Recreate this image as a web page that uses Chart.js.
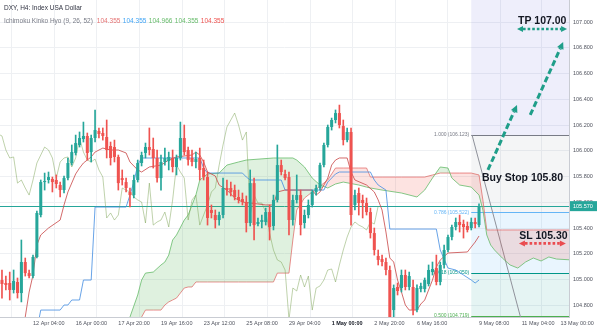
<!DOCTYPE html>
<html><head><meta charset="utf-8">
<script src="https://cdn.jsdelivr.net/npm/chart.js@4.4.1/dist/chart.umd.min.js"></script>
<style>html,body{margin:0;padding:0;background:#fff;overflow:hidden}canvas{display:block}</style>
</head><body>
<canvas id="c" width="597" height="328"></canvas>
<script>
// ---------------- DATA ----------------
const firstBar = -8;           // bar index of the first candle in the arrays
const lagShift = 26;           // lagging span displacement (bars)
const opens = [104.996,104.973,104.973,104.919,104.981,104.895,105.136,105.050,105.027,105.175,
105.501,105.757,105.773,105.781,105.773,105.734,105.695,105.788,105.905,105.983,
106.045,106.091,106.115,105.990,106.099,106.154,106.138,106.107,106.037,106.029,
105.952,105.788,105.757,105.680,105.656,105.773,105.905,105.983,106.029,106.014,
105.944,105.788,105.913,105.920,105.944,105.874,105.944,106.099,106.006,105.944,
105.913,105.944,105.866,105.796,105.540,105.501,105.462,105.501,105.711,105.711,
105.695,105.641,105.625,105.602,105.439,105.749,105.431,105.447,105.447,105.524,
105.416,105.618,105.889,105.820,105.796,105.462,105.618,105.656,105.439,105.501,
105.579,105.680,105.711,105.889,106.045,106.185,106.239,106.293,106.192,106.083,
106.146,105.579,105.672,105.618,105.594,105.524,105.361,105.183,105.159,105.136,
105.074,104.763,104.942,104.934,105.035,104.942,104.942,104.763,104.926,104.926,
104.965,105.058,105.089,104.981,105.113,105.229,105.330,105.408,105.447,105.431,
105.416,105.400,105.447,105.423];
const highs = [105.074,105.027,105.058,105.074,105.012,105.307,105.167,105.074,105.190,105.532,
105.773,105.827,105.835,105.796,105.812,105.757,105.804,105.944,106.045,106.122,
106.146,106.223,106.138,106.122,106.317,106.177,106.177,106.239,106.068,106.083,
105.967,105.851,105.788,105.711,105.812,105.928,105.990,106.060,106.177,106.099,
106.006,105.967,106.021,105.990,106.006,105.967,106.223,106.200,106.029,106.006,
105.990,106.021,105.928,105.835,105.579,105.540,105.524,105.788,105.773,105.757,
105.734,105.695,105.672,105.649,105.851,105.788,105.478,105.501,105.555,105.579,
105.656,106.045,105.928,105.851,105.835,105.656,105.812,105.695,105.540,105.618,
105.695,105.734,105.905,106.060,106.200,106.254,106.317,106.355,106.239,106.177,
106.177,105.695,105.711,105.656,105.633,105.555,105.400,105.229,105.190,105.167,
105.105,104.958,104.973,105.074,105.074,105.058,104.996,104.958,104.973,105.012,
105.113,105.136,105.190,105.136,105.268,105.346,105.423,105.478,105.501,105.462,
105.447,105.478,105.478,105.587];
const lows = [104.856,104.919,104.841,104.895,104.856,104.826,105.027,105.012,105.012,105.167,
105.486,105.695,105.749,105.680,105.711,105.641,105.672,105.773,105.889,105.967,
106.029,106.068,105.928,105.913,106.068,106.099,106.083,105.944,105.889,105.913,
105.695,105.734,105.680,105.563,105.633,105.757,105.882,105.944,105.967,105.866,
105.757,105.695,105.889,105.851,105.835,105.812,105.928,105.967,105.889,105.882,
105.866,105.773,105.773,105.423,105.478,105.400,105.423,105.478,105.656,105.649,
105.618,105.594,105.579,105.369,105.416,105.307,105.416,105.400,105.423,105.307,
105.385,105.602,105.812,105.773,105.346,105.423,105.594,105.346,105.400,105.478,
105.563,105.656,105.695,105.874,106.029,106.161,106.216,106.177,106.045,106.068,
105.423,105.540,105.501,105.478,105.501,105.322,105.190,105.113,105.105,105.035,
104.530,104.608,104.880,104.903,104.919,104.919,104.725,104.748,104.903,104.903,
104.950,105.035,104.958,104.958,105.089,105.214,105.307,105.385,105.369,105.322,
105.369,105.385,105.400,105.408];
const closes = [104.965,104.958,104.919,104.989,104.895,105.136,105.050,105.027,105.175,105.517,
105.757,105.765,105.796,105.757,105.742,105.695,105.788,105.905,105.990,106.060,
106.099,106.115,105.983,106.099,106.161,106.130,106.115,106.006,105.944,105.952,
105.749,105.773,105.711,105.656,105.773,105.905,105.967,106.029,106.006,105.944,
105.788,105.913,105.944,105.952,105.874,105.944,106.099,105.990,105.928,105.913,
105.936,105.851,105.796,105.478,105.517,105.462,105.501,105.711,105.695,105.680,
105.641,105.618,105.602,105.439,105.749,105.423,105.447,105.462,105.524,105.408,
105.618,105.889,105.835,105.788,105.462,105.618,105.656,105.423,105.501,105.579,
105.680,105.711,105.889,106.045,106.185,106.239,106.293,106.200,106.083,106.146,
105.501,105.656,105.594,105.594,105.524,105.361,105.229,105.152,105.136,105.074,
104.690,104.934,104.911,105.035,104.942,105.027,104.763,104.934,104.950,104.996,
105.074,105.082,104.981,105.113,105.229,105.330,105.408,105.447,105.423,105.408,
105.385,105.447,105.431,105.570];
const lastPrice = 105.570;

// Ichimoku lines (bar index, price)
const tenkanBars = [-3,-2,-1,0,1,2,4,7,8,9,11,12,13,15,16,18,20,22,24,25,27,28,30,33,35,37,41,42,43,44,45,47,48,50,52,54,60,62,63,65,72,73,74,75,76,77,78,79,81,82,83,86,88,89,90,91,92,93,94,95,96,97,99,100,101,102,103,104,105,107,112,113,114,115];
const tenkanVals = [104.569,104.709,104.903,105.035,105.268,105.346,105.400,105.462,105.579,105.680,105.820,105.866,105.905,105.952,105.990,106.021,106.006,106.006,105.983,105.913,105.851,105.835,105.874,105.889,105.928,105.952,105.967,105.990,105.967,105.913,105.835,105.804,105.734,105.695,105.633,105.602,105.579,105.579,105.680,105.695,105.695,105.656,105.680,105.734,105.788,105.889,105.928,105.944,105.944,105.835,105.773,105.734,105.680,105.618,105.540,105.369,105.167,105.136,104.996,104.903,104.802,104.763,104.763,104.810,104.841,104.919,104.996,105.097,105.152,105.206,105.214,105.253,105.291,105.338];
const kijunBars = [1,2,7,8,9,10,12,13,15,16,24,25,26,27,28,43,44,45,54,55,56,64,65,75,76,77,78,79,87,88,89,91,92,104,105,107,109,111,113,114,115];
const kijunVals = [104.608,104.763,104.763,104.802,104.802,104.841,104.841,104.996,104.996,105.563,105.563,105.656,105.757,105.889,105.944,105.944,105.866,105.827,105.827,105.796,105.773,105.773,105.695,105.695,105.757,105.788,105.820,105.835,105.835,105.773,105.734,105.695,105.392,105.392,105.229,105.089,105.074,105.035,104.996,104.973,104.996];
const cloudBars = [20,25,27,28,29,31,33,34,35,36,37,39,40,41,42,43,45,48,50,53,55,62,63,66,67,68,70,72,74,76,78,80,84,86,87,90,95,99,101,103,105,107,108,110,113,115,116,117,118,119,121,123,125,127,129,131,133,135,139];
const spanA = [104.491,104.709,104.880,104.996,105.050,105.058,105.113,105.136,105.190,105.307,105.346,105.462,105.501,105.579,105.656,105.773,105.820,105.827,105.889,105.913,105.928,105.944,105.944,105.944,105.944,105.928,105.874,105.788,105.734,105.711,105.742,105.757,105.734,105.718,105.711,105.695,105.672,105.641,105.695,105.788,105.874,105.866,105.788,105.734,105.718,105.656,105.540,105.346,105.268,105.229,105.167,105.113,105.089,105.136,105.167,105.144,105.175,105.159,105.152];
const spanB = [103.909,104.064,104.530,104.709,104.763,104.763,104.763,104.802,104.826,104.841,104.856,104.934,104.942,104.942,104.981,104.981,104.981,104.981,104.981,104.981,104.981,104.981,105.050,105.050,105.307,105.540,105.633,105.680,105.726,105.773,105.866,105.866,105.866,105.866,105.796,105.796,105.796,105.796,105.796,105.812,105.827,105.827,105.827,105.827,105.827,105.812,105.618,105.385,105.385,105.385,105.385,105.385,105.385,105.385,105.385,105.385,105.385,105.385,105.385];
const legendValues = [104.355, 104.355, 104.966, 104.355, 104.355];

// Axis ticks
const timeTickBars = [0,11,22,33,44,55,66,77,88,99,115,126,136];
const timeTickLabels = ['12 Apr 04:00','16 Apr 00:00','17 Apr 20:00','19 Apr 16:00','23 Apr 12:00','25 Apr 08:00','29 Apr 04:00','1 May 00:00','2 May 20:00','6 May 16:00','9 May 08:00','11 May 04:00','13 May 00:00'];
const boldTimeLabel = '1 May 00:00';
const priceTicks = [104.8,105.0,105.2,105.4,105.6,105.8,106.0,106.2,106.4,106.6,106.8,107.0];

// Fibonacci retracement & trade plan
const fibRatios = [1, 0.786, 0.618, 0.5];
const fibPrices = [106.123, 105.522, 105.050, 104.719];
const fibStartBar = 113;
const fibTrend = [[113.2, 106.123], [138, 103.315]];
const takeProfit = 107.00, buyStop = 105.80, stopLoss = 105.30;

// ---------------- CHART ----------------
const FONT = '"Liberation Sans", Arial, sans-serif';
const UP = '#26a69a', DOWN = '#ef5350';
const bars = opens.map((_, k) => firstBar + k);
const isUp = k => closes[k] >= opens[k];
const pts = (xs, ys) => xs.map((x, k) => ({x, y: ys[k]}));
const boldIdx = timeTickLabels.indexOf(boldTimeLabel);

function head(ctx, x1, y1, x2, y2, len, w) {
  const a = Math.atan2(y2 - y1, x2 - x1), c = Math.cos(a), s = Math.sin(a);
  ctx.beginPath();
  ctx.moveTo(x2, y2);
  ctx.lineTo(x2 - len * c + w / 2 * s, y2 - len * s - w / 2 * c);
  ctx.lineTo(x2 - len * c - w / 2 * s, y2 - len * s + w / 2 * c);
  ctx.closePath(); ctx.fill();
}
function dashedArrow(ctx, x1, y1, x2, y2, color) {
  const a = Math.atan2(y2 - y1, x2 - x1), len = 7;
  ctx.save();
  ctx.strokeStyle = color; ctx.fillStyle = color; ctx.lineWidth = 3;
  ctx.setLineDash([6, 3]);
  ctx.beginPath(); ctx.moveTo(x1, y1); ctx.lineTo(x2 - len * Math.cos(a), y2 - len * Math.sin(a)); ctx.stroke();
  ctx.setLineDash([]);
  head(ctx, x1, y1, x2, y2, len, 7);
  ctx.restore();
}
function dottedDouble(ctx, x1, x2, yy, color) {
  const len = 6;
  ctx.save();
  ctx.strokeStyle = color; ctx.fillStyle = color; ctx.lineWidth = 2.6;
  ctx.setLineDash([2.6, 2]);
  ctx.beginPath(); ctx.moveTo(x1 + len, yy); ctx.lineTo(x2 - len, yy); ctx.stroke();
  ctx.setLineDash([]);
  head(ctx, x2, yy, x1, yy, len, 6);
  head(ctx, x1, yy, x2, yy, len, 6);
  ctx.restore();
}

const overlay = {
  id: 'overlay',
  beforeDatasetsDraw(chart) {
    const {ctx, chartArea: a, scales: {x, y}} = chart;
    ctx.save();
    ctx.beginPath(); ctx.rect(a.left, a.top, a.right - a.left, a.bottom - a.top); ctx.clip();
    const x0 = x.getPixelForValue(fibStartBar);
    const edges = [a.top, ...fibPrices.map(p => y.getPixelForValue(p)), a.bottom];
    const bandColors = ['rgba(90,90,215,0.1)', 'rgba(120,123,134,0.08)', 'rgba(100,181,246,0.14)', 'rgba(0,150,136,0.1)', 'rgba(76,175,80,0.12)'];
    for (let k = 0; k < edges.length - 1; k++) {
      ctx.fillStyle = bandColors[k];
      ctx.fillRect(x0, edges[k], a.right - x0, edges[k + 1] - edges[k]);
    }
    const fibColors = ['#787b86', '#64b5f6', '#009688', '#4caf50'];
    fibPrices.forEach((p, k) => {
      const py = Math.round(y.getPixelForValue(p)) + 0.5;
      ctx.strokeStyle = fibColors[k]; ctx.lineWidth = 1;
      ctx.beginPath(); ctx.moveTo(x0, py); ctx.lineTo(a.right, py); ctx.stroke();
    });
    // fib trend line
    ctx.strokeStyle = '#8f929b'; ctx.lineWidth = 1;
    ctx.beginPath();
    ctx.moveTo(x.getPixelForValue(fibTrend[0][0]), y.getPixelForValue(fibTrend[0][1]));
    ctx.lineTo(x.getPixelForValue(fibTrend[1][0]), y.getPixelForValue(fibTrend[1][1]));
    ctx.stroke();
    // last price line
    const lp = Math.round(y.getPixelForValue(lastPrice)) + 0.5;
    ctx.strokeStyle = UP; ctx.beginPath(); ctx.moveTo(a.left, lp); ctx.lineTo(a.right, lp); ctx.stroke();
    ctx.restore();
    // fib labels
    ctx.save();
    ctx.font = '5px ' + FONT; ctx.textAlign = 'right'; ctx.textBaseline = 'middle';
    fibPrices.forEach((p, k) => {
      ctx.fillStyle = fibColors[k];
      ctx.fillText(fibRatios[k].toFixed(3) + ' (' + p.toFixed(3) + ')', x0 - 2, y.getPixelForValue(p));
    });
    ctx.restore();
  },
  afterDatasetsDraw(chart) {
    const {ctx, scales: {x, y}} = chart;
    const X = b => x.getPixelForValue(b), Y = v => y.getPixelForValue(v);
    const teal = '#1f9e89', red = '#ea4b4f';
    dashedArrow(ctx, X(117.3), Y(105.851), X(124.8), Y(106.355), teal);
    dashedArrow(ctx, X(128.2), Y(106.278), X(136.7), Y(106.845), teal);
    dottedDouble(ctx, X(124.8), X(137.7), Y(takeProfit) + 7, teal);
    dottedDouble(ctx, X(125.3), X(137.4), Y(stopLoss) + 2.5, red);
    ctx.save();
    ctx.fillStyle = '#131722'; ctx.font = 'bold 10.5px ' + FONT;
    ctx.textAlign = 'center'; ctx.textBaseline = 'middle';
    ctx.fillText('TP ' + takeProfit.toFixed(2), X(131.3), Y(takeProfit) - 0.5);
    ctx.fillText('Buy Stop ' + buyStop.toFixed(2), X(126.2), Y(buyStop) + 1.5);
    ctx.fillText('SL ' + stopLoss.toFixed(2), X(131.6), Y(stopLoss) - 4.5);
    ctx.restore();
  },
  afterDraw(chart) {
    const {ctx, chartArea: a, scales: {y}} = chart;
    ctx.save();
    const py = y.getPixelForValue(lastPrice);
    ctx.fillStyle = UP; ctx.fillRect(a.right + 1, py - 5, 28, 10);
    ctx.fillStyle = '#fff'; ctx.font = '5.5px ' + FONT; ctx.textBaseline = 'middle'; ctx.textAlign = 'left';
    ctx.fillText(lastPrice.toFixed(3), a.right + 4, py + 0.5);
    // header
    ctx.textBaseline = 'alphabetic';
    ctx.font = '6.5px ' + FONT; ctx.fillStyle = '#2f3241';
    ctx.fillText('DXY, H4: Index USA Dollar', 4, 10);
    ctx.fillStyle = '#787b86';
    const t2 = 'Ichimoku Kinko Hyo (9, 26, 52)';
    ctx.fillText(t2, 4, 22.5);
    let tx = 4 + ctx.measureText(t2).width + 4;
    const legendColors = ['#e57373', '#42a5f5', '#66bb6a', '#66bb6a', '#ef5350'];
    legendValues.forEach((v, k) => {
      const s = v.toFixed(3);
      ctx.fillStyle = legendColors[k];
      ctx.fillText(s, tx, 22.5);
      tx += ctx.measureText(s).width + 2.5;
    });
    ctx.restore();
  }
};

new Chart(document.getElementById('c'), {
  type: 'bar',
  data: {
    datasets: [
      { type: 'line', label: 'Lead 2', data: pts(cloudBars, spanB), borderColor: 'rgba(229,115,115,0.8)', borderWidth: 1, pointRadius: 0, tension: 0, order: 20 },
      { type: 'line', label: 'Lead 1', data: pts(cloudBars, spanA), borderColor: 'rgba(102,187,106,0.8)', borderWidth: 1, pointRadius: 0, tension: 0, order: 19,
        fill: { target: 0, above: 'rgba(76,175,80,0.18)', below: 'rgba(244,67,54,0.15)' } },
      { type: 'line', label: 'Lagging Span', data: closes.map((c, k) => ({x: bars[k] - lagShift, y: c})), borderColor: 'rgba(120,160,80,0.6)', borderWidth: 0.8, pointRadius: 0, tension: 0, order: 6 },
      { type: 'line', label: 'Base Line', data: pts(kijunBars, kijunVals), borderColor: 'rgba(66,140,225,0.8)', borderWidth: 1, pointRadius: 0, tension: 0, order: 5 },
      { type: 'line', label: 'Conversion Line', data: pts(tenkanBars, tenkanVals), borderColor: 'rgba(200,70,70,0.8)', borderWidth: 1, pointRadius: 0, tension: 0, order: 4 },
      { type: 'bar', label: 'wick', data: bars.map((b, k) => ({x: b, y: [lows[k], highs[k]]})), backgroundColor: c => isUp(c.dataIndex) ? UP : DOWN,
        barThickness: 1, grouped: false, borderWidth: 0, order: 2 },
      { type: 'bar', label: 'body', data: bars.map((b, k) => ({x: b, y: [opens[k], closes[k]]})), backgroundColor: c => isUp(c.dataIndex) ? UP : DOWN,
        barPercentage: 0.78, categoryPercentage: 1, grouped: false, minBarLength: 1, borderWidth: 0, order: 1 }
    ]
  },
  options: {
    responsive: false, devicePixelRatio: 1, animation: false, events: [],
    layout: { padding: 0 },
    plugins: { legend: { display: false }, tooltip: { enabled: false } },
    scales: {
      x: {
        type: 'linear', position: 'bottom', min: -8.51, max: 138.2, offset: false,
        afterBuildTicks: s => { s.ticks = timeTickBars.map(v => ({value: v})); },
        afterFit: s => { s.height = 11; s.paddingLeft = 0; s.paddingRight = 0; },
        grid: { color: '#eef0f3', drawTicks: false },
        border: { display: true, color: '#c9ccd3' },
        ticks: {
          autoSkip: false, maxRotation: 0, minRotation: 0, padding: 3, align: 'start',
          color: c => c.index === boldIdx ? '#131722' : '#50535e',
          font: c => ({ family: FONT, size: 5.5, weight: c.index === boldIdx ? 'bold' : 'normal' }),
          callback: (v, i) => timeTickLabels[i]
        }
      },
      y: {
        type: 'linear', position: 'right', min: 104.709, max: 107.171,
        afterBuildTicks: s => { s.ticks = priceTicks.map(v => ({value: v})); },
        afterFit: s => { s.width = 28; s.paddingTop = 0; s.paddingBottom = 0; },
        grid: { color: '#eef0f3', drawTicks: false },
        border: { display: true, color: '#c9ccd3' },
        ticks: { padding: 4, color: '#50535e', font: { family: FONT, size: 5.5 }, callback: v => v.toFixed(3) }
      }
    }
  },
  plugins: [overlay]
});
</script>
</body></html>
